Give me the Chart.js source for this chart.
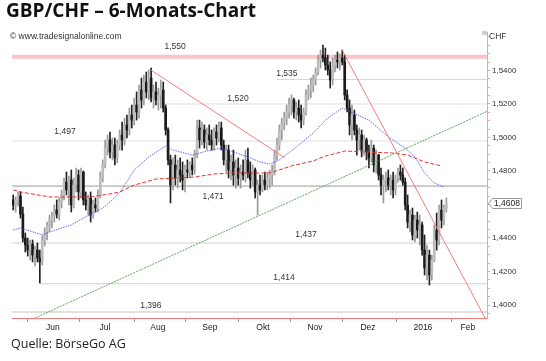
<!DOCTYPE html>
<html>
<head>
<meta charset="utf-8">
<script src="https://cdn.jsdelivr.net/npm/chart.js@4.4.1/dist/chart.umd.min.js"></script>
<style>
html, body { margin: 0; padding: 0; background: #fff; }
#wrap { position: relative; width: 546px; height: 361px; overflow: hidden; }
#wrap canvas { position: absolute; left: 0; top: 0; }
.title { position: absolute; left: 6px; top: 1px; font: bold 19px/19px "Open Sans"; color: #111; white-space: nowrap; }
.copy { position: absolute; left: 10px; top: 32px; font: 8.5px/8.5px "Liberation Sans"; color: #333; white-space: nowrap; }
.src { position: absolute; left: 11px; top: 338px; font: 12.5px/12.5px "Open Sans"; color: #222; white-space: nowrap; }
</style>
</head>
<body>
<div id="wrap">
  <canvas id="chart" width="546" height="361"></canvas>
  <div class="title">GBP/CHF – 6-Monats-Chart</div>
  <div class="copy">© www.tradesignalonline.com</div>
  <div class="src">Quelle: BörseGo AG</div>
</div>
<script>
// ===============================
// DATA (daily bars, index 0 = late May 2015)
// ===============================
const openP = [
  1.4627,1.4597,1.4627,1.4651,1.4543,1.4400,1.4358,1.4328,1.4364,1.4298,
  1.4328,1.4281,1.4257,1.4388,1.4436,1.4472,1.4507,1.4531,1.4567,1.4543,
  1.4615,1.4657,1.4734,1.4687,1.4746,1.4597,1.4716,1.4776,1.4675,1.4794,
  1.4627,1.4597,1.4639,1.4537,1.4597,1.4579,1.4657,1.4758,1.4836,1.4937,
  1.4985,1.4913,1.4955,1.4878,1.4955,1.5015,1.4985,1.5075,1.5045,1.5134,
  1.5104,1.5194,1.5152,1.5284,1.5224,1.5331,1.5272,1.5355,1.5236,1.5272,
  1.5224,1.5254,1.5284,1.5176,1.5045,1.4866,1.4716,1.4836,1.4758,1.4806,
  1.4776,1.4746,1.4806,1.4794,1.4836,1.4806,1.4895,1.5057,1.4985,1.5045,
  1.4973,1.5015,1.4985,1.4955,1.5033,1.4997,1.5057,1.4955,1.4866,1.4925,
  1.4806,1.4854,1.4776,1.4818,1.4758,1.4794,1.4776,1.4866,1.4794,1.4746,
  1.4806,1.4675,1.4716,1.4687,1.4746,1.4716,1.4758,1.4782,1.4794,1.4895,
  1.4955,1.5045,1.5092,1.5116,1.5152,1.5194,1.5224,1.5152,1.5176,1.5134,
  1.5104,1.5152,1.5254,1.5284,1.5313,1.5343,1.5391,1.5463,1.5492,1.5475,
  1.5433,1.5403,1.5343,1.5433,1.5463,1.5451,1.5475,1.5451,1.5254,1.5176,
  1.5075,1.5134,1.5045,1.4985,1.5015,1.4925,1.4985,1.4913,1.4878,1.4937,
  1.4836,1.4895,1.4776,1.4716,1.4746,1.4758,1.4716,1.4746,1.4687,1.4758,
  1.4794,1.4776,1.4734,1.4597,1.4495,1.4537,1.4418,1.4507,1.4448,1.4478,
  1.4328,1.4221,1.4298,1.4179,1.4269,1.4448,1.4388,1.4567,1.4507,1.4579
];
const highP = [
  1.4657,1.4645,1.4675,1.4675,1.4585,1.4430,1.4400,1.4388,1.4388,1.4352,
  1.4370,1.4328,1.4412,1.4460,1.4495,1.4537,1.4555,1.4597,1.4627,1.4639,
  1.4687,1.4758,1.4794,1.4770,1.4806,1.4758,1.4818,1.4806,1.4818,1.4800,
  1.4675,1.4657,1.4675,1.4627,1.4639,1.4687,1.4794,1.4866,1.4985,1.5015,
  1.5033,1.4997,1.4997,1.4985,1.5045,1.5092,1.5116,1.5134,1.5176,1.5194,
  1.5236,1.5272,1.5313,1.5355,1.5373,1.5391,1.5403,1.5415,1.5313,1.5331,
  1.5295,1.5343,1.5331,1.5194,1.5057,1.4895,1.4878,1.4895,1.4866,1.4878,
  1.4854,1.4836,1.4866,1.4854,1.4878,1.4925,1.5104,1.5104,1.5092,1.5075,
  1.5057,1.5075,1.5045,1.5057,1.5075,1.5092,1.5092,1.4985,1.4955,1.4955,
  1.4895,1.4925,1.4866,1.4878,1.4836,1.4866,1.4925,1.4937,1.4854,1.4836,
  1.4818,1.4746,1.4776,1.4776,1.4794,1.4794,1.4806,1.4836,1.4925,1.4997,
  1.5075,1.5116,1.5152,1.5194,1.5236,1.5254,1.5236,1.5212,1.5224,1.5194,
  1.5176,1.5284,1.5313,1.5355,1.5373,1.5415,1.5492,1.5522,1.5552,1.5534,
  1.5492,1.5451,1.5475,1.5492,1.5510,1.5498,1.5522,1.5492,1.5284,1.5224,
  1.5194,1.5164,1.5075,1.5057,1.5045,1.5015,1.4997,1.4955,1.4985,1.4955,
  1.4925,1.4900,1.4818,1.4776,1.4794,1.4806,1.4776,1.4794,1.4776,1.4818,
  1.4836,1.4818,1.4758,1.4657,1.4567,1.4579,1.4537,1.4555,1.4537,1.4495,
  1.4418,1.4358,1.4328,1.4298,1.4478,1.4549,1.4597,1.4627,1.4597,1.4639
];
const lowP = [
  1.4567,1.4555,1.4591,1.4519,1.4376,1.4316,1.4292,1.4269,1.4257,1.4233,
  1.4257,1.4131,1.4239,1.4352,1.4388,1.4436,1.4460,1.4495,1.4519,1.4507,
  1.4579,1.4627,1.4657,1.4597,1.4555,1.4579,1.4675,1.4627,1.4639,1.4597,
  1.4567,1.4537,1.4495,1.4519,1.4555,1.4555,1.4639,1.4734,1.4818,1.4895,
  1.4878,1.4866,1.4836,1.4848,1.4925,1.4925,1.4955,1.4997,1.5015,1.5057,
  1.5075,1.5104,1.5116,1.5176,1.5194,1.5236,1.5224,1.5212,1.5176,1.5194,
  1.5164,1.5176,1.5152,1.5015,1.4836,1.4609,1.4687,1.4716,1.4698,1.4734,
  1.4687,1.4675,1.4758,1.4758,1.4776,1.4782,1.4878,1.4937,1.4955,1.4937,
  1.4925,1.4955,1.4925,1.4925,1.4955,1.4973,1.4925,1.4836,1.4794,1.4758,
  1.4746,1.4716,1.4698,1.4716,1.4698,1.4746,1.4734,1.4758,1.4698,1.4716,
  1.4639,1.4537,1.4657,1.4675,1.4687,1.4687,1.4698,1.4716,1.4776,1.4866,
  1.4925,1.4985,1.5045,1.5075,1.5116,1.5134,1.5116,1.5104,1.5092,1.5057,
  1.5075,1.5134,1.5224,1.5236,1.5272,1.5313,1.5373,1.5415,1.5451,1.5403,
  1.5373,1.5295,1.5313,1.5391,1.5415,1.5403,1.5433,1.5224,1.5152,1.5015,
  1.4985,1.5015,1.4895,1.4925,1.4884,1.4895,1.4866,1.4818,1.4854,1.4794,
  1.4788,1.4746,1.4657,1.4609,1.4675,1.4687,1.4657,1.4639,1.4657,1.4734,
  1.4746,1.4716,1.4567,1.4460,1.4436,1.4388,1.4376,1.4400,1.4358,1.4298,
  1.4179,1.4149,1.4119,1.4149,1.4257,1.4328,1.4358,1.4460,1.4478,1.4555
];
const closeP = [
  1.4597,1.4627,1.4651,1.4543,1.4400,1.4358,1.4328,1.4364,1.4298,1.4328,
  1.4281,1.4257,1.4388,1.4436,1.4472,1.4507,1.4531,1.4567,1.4543,1.4615,
  1.4657,1.4734,1.4687,1.4746,1.4597,1.4716,1.4776,1.4675,1.4794,1.4627,
  1.4597,1.4639,1.4537,1.4597,1.4579,1.4657,1.4758,1.4836,1.4937,1.4985,
  1.4913,1.4955,1.4878,1.4955,1.5015,1.4985,1.5075,1.5045,1.5134,1.5104,
  1.5194,1.5152,1.5284,1.5224,1.5331,1.5272,1.5355,1.5236,1.5272,1.5224,
  1.5254,1.5284,1.5176,1.5045,1.4866,1.4716,1.4836,1.4758,1.4806,1.4776,
  1.4746,1.4806,1.4794,1.4836,1.4806,1.4895,1.5057,1.4985,1.5045,1.4973,
  1.5015,1.4985,1.4955,1.5033,1.4997,1.5057,1.4955,1.4866,1.4925,1.4806,
  1.4854,1.4776,1.4818,1.4758,1.4794,1.4776,1.4866,1.4794,1.4746,1.4806,
  1.4675,1.4716,1.4687,1.4746,1.4716,1.4758,1.4782,1.4794,1.4895,1.4955,
  1.5045,1.5092,1.5116,1.5152,1.5194,1.5224,1.5152,1.5176,1.5134,1.5104,
  1.5152,1.5254,1.5284,1.5313,1.5343,1.5391,1.5463,1.5492,1.5475,1.5433,
  1.5403,1.5343,1.5433,1.5463,1.5451,1.5475,1.5451,1.5254,1.5176,1.5075,
  1.5134,1.5045,1.4985,1.5015,1.4925,1.4985,1.4913,1.4878,1.4937,1.4836,
  1.4895,1.4776,1.4716,1.4746,1.4758,1.4716,1.4746,1.4687,1.4758,1.4794,
  1.4776,1.4734,1.4597,1.4495,1.4537,1.4418,1.4507,1.4448,1.4478,1.4328,
  1.4221,1.4298,1.4179,1.4269,1.4448,1.4388,1.4567,1.4507,1.4579,1.4608
];

// moving averages at these bar indices
const blueMaX = [0,3,12,15,24,32,37,40,44,50,56,63,66,74,80,86,90,97,102,106,110,117,124,130,136,147,155,162,166,170,174,178];
const blueMaY = [1.4448,1.4460,1.4418,1.4436,1.4478,1.4543,1.4579,1.4615,1.4669,1.4806,1.4884,1.4949,1.4925,1.4895,1.4919,1.4937,1.4919,1.4884,1.4854,1.4842,1.4866,1.4943,1.5027,1.5116,1.5176,1.5104,1.5003,1.4937,1.4884,1.4788,1.4728,1.4704];
const redMaX = [0,3,15,32,40,44,50,59,75,83,90,106,115,124,129,137,147,157,163,170,177];
const redMaY = [1.4687,1.4675,1.4645,1.4645,1.4663,1.4675,1.4716,1.4752,1.4764,1.4782,1.4788,1.4788,1.4830,1.4860,1.4889,1.4919,1.4913,1.4907,1.4895,1.4854,1.4830];

// trend lines (bar index / price)
const trendRed1X = [56.9, 112.3], trendRed1Y = [1.5403, 1.4878];
const trendRed2X = [135.9, 195.0], trendRed2Y = [1.5522, 1.3922];
const trendGreenX = [9.0, 196.2], trendGreenY = [1.3922, 1.5158];

// horizontal levels
const levels     = [1.5482, 1.5346, 1.5200, 1.4979, 1.4710, 1.4370, 1.4127, 1.3958];
const levelText  = ['1,550', '1,535', '1,520', '1,497', '1,471', '1,437', '1,414', '1,396'];
const levelFrom  = [-0.5, 109, 58.6, -0.5, -0.5, -0.5, 11, -0.5];

// x axis
const monthNames = ['Jun', 'Jul', 'Aug', 'Sep', 'Okt', 'Nov', 'Dez', '2016', 'Feb'];
const monthStart = [5.7, 27.2, 50.3, 71.0, 92.9, 114.8, 135.9, 158.6, 181.3];
const monthMid   = [16.4, 37.9, 59.8, 81.3, 103.2, 124.7, 146.6, 169.3, 187.9];

// ===============================
// LAYOUT / STYLE
// ===============================
const X_MIN = -0.5, X_MAX = 195.8;
const Y_MIN = 1.39224, Y_MAX = 1.56298;
const levelColor = ['rgba(250,150,150,0.55)', '#d6d6d6', '#dedede', '#dedede', '#9a9a9a', '#d0d0d0', '#d0d0d0', '#e0e0e0'];
const levelWidth = [4, 1, 1, 1, 1, 1, 1, 2];
const labelAtX = [66.9, 113.1, 92.9, 21.4, 82.6, 121.0, 111.9, 56.9];
const labelDy  = [-10, -6, -5.5, -9, 11, -8, -6, -6];

const isUp = i => closeP[i] >= openP[i];
const wickData = closeP.map((_, i) => ({ x: i, y: [lowP[i], highP[i]] }));
const bodyData = closeP.map((_, i) => ({ x: i, y: [openP[i], closeP[i]] }));
const pts = (xs, ys) => xs.map((x, k) => ({ x: x, y: ys[k] }));

const datasets = [];
levels.forEach((v, k) => {
    datasets.push({
        type: 'line', data: [{ x: levelFrom[k], y: v }, { x: X_MAX, y: v }],
        borderColor: levelColor[k], borderWidth: levelWidth[k], pointRadius: 0, order: 20 + k
    });
});
datasets.push({
    type: 'bar', data: wickData, barThickness: 1, grouped: false, order: 9,
    backgroundColor: c => isUp(c.dataIndex) ? '#9a9a9a' : '#222'
});
datasets.push({
    type: 'bar', data: bodyData, barThickness: 2, grouped: false, order: 8,
    backgroundColor: c => isUp(c.dataIndex) ? '#bdbdbd' : '#1a1a1a'
});
datasets.push({ type: 'line', data: pts(redMaX, redMaY), borderColor: '#e83030', borderWidth: 1, borderDash: [4, 2], pointRadius: 0, order: 4 });
datasets.push({ type: 'line', data: pts(blueMaX, blueMaY), borderColor: 'rgba(70,70,245,0.8)', borderWidth: 1, borderDash: [1.5, 1], pointRadius: 0, order: 3 });
datasets.push({ type: 'line', data: pts(trendRed1X, trendRed1Y), borderColor: 'rgba(250,110,110,0.9)', borderWidth: 1, pointRadius: 0, order: 2 });
datasets.push({ type: 'line', data: pts(trendRed2X, trendRed2Y), borderColor: 'rgba(250,110,110,0.9)', borderWidth: 1, pointRadius: 0, order: 2 });
datasets.push({ type: 'line', data: pts(trendGreenX, trendGreenY), borderColor: 'rgba(50,150,50,0.8)', borderWidth: 1, borderDash: [2, 1], pointRadius: 0, order: 2 });

// texts on the chart: level labels, CHF, last price tag
const annotations = {
    id: 'annotations',
    afterDatasetsDraw(chart) {
        const { ctx, scales: { x, y } } = chart;
        ctx.save();
        ctx.font = '8.5px "Liberation Sans"';
        ctx.fillStyle = '#333';
        ctx.textAlign = 'center';
        ctx.textBaseline = 'middle';
        levelText.forEach((t, k) => {
            ctx.fillText(t, x.getPixelForValue(labelAtX[k]), y.getPixelForValue(levels[k]) + labelDy[k]);
        });

        // CHF unit + tiny box
        ctx.textAlign = 'left';
        ctx.fillText('CHF', 489, 37);
        ctx.fillStyle = '#cfcfcf';
        ctx.fillRect(482, 31, 5, 4);

        // last price tag
        const last = closeP[closeP.length - 1];
        const py = Math.round(y.getPixelForValue(last)) + 0.5;
        ctx.beginPath();
        ctx.moveTo(488.5, py);
        ctx.lineTo(492.5, py - 5);
        ctx.lineTo(521.5, py - 5);
        ctx.lineTo(521.5, py + 5);
        ctx.lineTo(492.5, py + 5);
        ctx.closePath();
        ctx.fillStyle = '#fff';
        ctx.fill();
        ctx.strokeStyle = '#999';
        ctx.lineWidth = 1;
        ctx.stroke();
        ctx.fillStyle = '#222';
        ctx.fillText(last.toFixed(4).replace('.', ','), 494, py + 0.5);
        ctx.restore();
    }
};

new Chart(document.getElementById('chart'), {
    type: 'bar',
    data: { datasets: datasets },
    options: {
        responsive: false,
        animation: false,
        devicePixelRatio: 1,
        events: [],
        layout: { padding: { left: 12, top: 32, right: 0, bottom: 0 } },
        plugins: { legend: { display: false }, tooltip: { enabled: false } },
        scales: {
            x: {
                type: 'linear', position: 'bottom', min: X_MIN, max: X_MAX, offset: false,
                afterFit: s => { s.height = 43; },
                afterBuildTicks: s => {
                    s.ticks = monthStart.concat(monthMid).sort((a, b) => a - b).map(v => ({ value: v }));
                },
                ticks: {
                    autoSkip: false, maxRotation: 0, padding: 1, color: '#222',
                    font: { family: 'Liberation Sans', size: 8.5 },
                    callback: v => { const k = monthMid.indexOf(v); return k < 0 ? '' : monthNames[k]; }
                },
                grid: {
                    offset: false, drawOnChartArea: false, tickLength: 4,
                    color: c => (c.tick && monthStart.includes(c.tick.value)) ? '#999' : 'rgba(0,0,0,0)'
                },
                border: { color: '#f47c7c', width: 1 }
            },
            y: {
                type: 'linear', position: 'right', min: Y_MIN, max: Y_MAX,
                afterFit: s => { s.width = 59; },
                ticks: {
                    stepSize: 0.005, includeBounds: false, autoSkip: false, padding: 2, color: '#333',
                    font: { family: 'Liberation Sans', size: 8 },
                    callback: v => {
                        const r = Math.round(v * 1000);
                        return (r % 20 === 0 && v < 1.55) ? v.toFixed(4).replace('.', ',') : '';
                    }
                },
                grid: { drawOnChartArea: false, tickLength: 3, color: '#f7a0a0' },
                border: { color: '#f7a0a0', width: 1 }
            }
        }
    },
    plugins: [annotations]
});
</script>
</body>
</html>
